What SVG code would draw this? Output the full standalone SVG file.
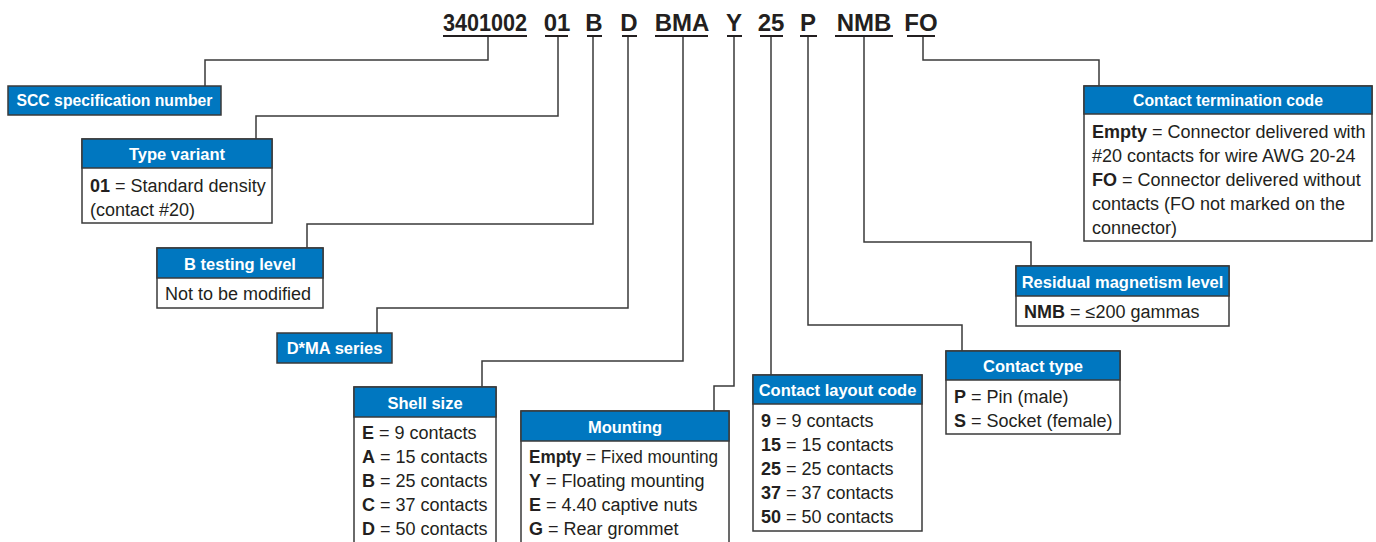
<svg xmlns="http://www.w3.org/2000/svg" width="1376" height="542" viewBox="0 0 1376 542">
<style>
text{font-family:"Liberation Sans Narrow","Liberation Sans",Arial,sans-serif;fill:#231f20}
.code{font-size:24px;font-weight:bold;text-anchor:middle}
.ul{fill:#231f20}
.hdr{fill:#0077c0;stroke:#3a3a3a;stroke-width:1.5}
.box{fill:#fff;stroke:#3a3a3a;stroke-width:1.5}
.ht{font-size:16.5px;font-weight:bold;fill:#fff;text-anchor:middle}
.bt{font-size:18px}
.b{font-weight:bold}
.conn{fill:none;stroke:#3a3a3a;stroke-width:1.5}
</style>
<g id="code">
<text class="code" x="485" y="31" textLength="84" lengthAdjust="spacingAndGlyphs">3401002</text>
<text class="code" x="557" y="31">01</text>
<text class="code" x="594" y="31">B</text>
<text class="code" x="629" y="31">D</text>
<text class="code" x="682" y="31">BMA</text>
<text class="code" x="734" y="31">Y</text>
<text class="code" x="771" y="31">25</text>
<text class="code" x="808" y="31">P</text>
<text class="code" x="864" y="31">NMB</text>
<text class="code" x="921" y="31">FO</text>
<rect class="ul" x="443" y="35" width="84" height="2"/>
<rect class="ul" x="545" y="35" width="23" height="2"/>
<rect class="ul" x="587" y="35" width="15" height="2"/>
<rect class="ul" x="622" y="35" width="15" height="2"/>
<rect class="ul" x="655" y="35" width="53" height="2"/>
<rect class="ul" x="727" y="35" width="15" height="2"/>
<rect class="ul" x="760" y="35" width="23" height="2"/>
<rect class="ul" x="800" y="35" width="17" height="2"/>
<rect class="ul" x="835" y="35" width="58" height="2"/>
<rect class="ul" x="907" y="35" width="28" height="2"/>
</g>
<g id="connectors">
<path class="conn" d="M488 37V60H205V86"/>
<path class="conn" d="M558 37V116H256V139"/>
<path class="conn" d="M593 37V224H307V248"/>
<path class="conn" d="M628 37V308H377V333"/>
<path class="conn" d="M683 37V361H482V387"/>
<path class="conn" d="M734 37V386H714V411"/>
<path class="conn" d="M771 37V375"/>
<path class="conn" d="M808 37V325H962V351"/>
<path class="conn" d="M864 37V242H1031V266"/>
<path class="conn" d="M923 37V60H1099V86"/>
</g>
<g id="scc">
<rect class="hdr" x="8" y="86" width="213" height="29"/>
<text class="ht" x="114.5" y="106" textLength="196" lengthAdjust="spacingAndGlyphs">SCC specification number</text>
</g>
<g id="type-variant">
<rect class="box" x="82" y="139" width="190" height="84"/>
<rect class="hdr" x="82" y="139" width="190" height="29"/>
<text class="ht" x="177" y="160">Type variant</text>
<text class="bt" x="90" y="192"><tspan class="b">01</tspan> = Standard density</text>
<text class="bt" x="90" y="216">(contact #20)</text>
</g>
<g id="b-testing">
<rect class="box" x="157" y="248" width="166" height="60"/>
<rect class="hdr" x="157" y="248" width="166" height="30"/>
<text class="ht" x="240" y="270">B testing level</text>
<text class="bt" x="165" y="300">Not to be modified</text>
</g>
<g id="dma">
<rect class="hdr" x="277" y="333" width="115" height="30"/>
<text class="ht" x="334.5" y="354">D*MA series</text>
</g>
<g id="shell-size">
<rect class="box" x="354" y="387" width="142" height="170"/>
<rect class="hdr" x="354" y="387" width="142" height="30"/>
<text class="ht" x="425" y="409">Shell size</text>
<text class="bt" x="362" y="439"><tspan class="b">E</tspan> = 9 contacts</text>
<text class="bt" x="362" y="463"><tspan class="b">A</tspan> = 15 contacts</text>
<text class="bt" x="362" y="487"><tspan class="b">B</tspan> = 25 contacts</text>
<text class="bt" x="362" y="511"><tspan class="b">C</tspan> = 37 contacts</text>
<text class="bt" x="362" y="535"><tspan class="b">D</tspan> = 50 contacts</text>
</g>
<g id="mounting">
<rect class="box" x="521" y="411" width="208" height="146"/>
<rect class="hdr" x="521" y="411" width="208" height="30"/>
<text class="ht" x="625" y="433">Mounting</text>
<text class="bt" x="529" y="463" textLength="189" lengthAdjust="spacingAndGlyphs"><tspan class="b">Empty</tspan> = Fixed mounting</text>
<text class="bt" x="529" y="487"><tspan class="b">Y</tspan> = Floating mounting</text>
<text class="bt" x="529" y="511"><tspan class="b">E</tspan> = 4.40 captive nuts</text>
<text class="bt" x="529" y="535"><tspan class="b">G</tspan> = Rear grommet</text>
</g>
<g id="contact-layout">
<rect class="box" x="753" y="375" width="169" height="156"/>
<rect class="hdr" x="753" y="375" width="169" height="29"/>
<text class="ht" x="837.5" y="396">Contact layout code</text>
<text class="bt" x="761" y="427"><tspan class="b">9</tspan> = 9 contacts</text>
<text class="bt" x="761" y="451"><tspan class="b">15</tspan> = 15 contacts</text>
<text class="bt" x="761" y="475"><tspan class="b">25</tspan> = 25 contacts</text>
<text class="bt" x="761" y="499"><tspan class="b">37</tspan> = 37 contacts</text>
<text class="bt" x="761" y="523"><tspan class="b">50</tspan> = 50 contacts</text>
</g>
<g id="contact-type">
<rect class="box" x="946" y="351" width="174" height="83"/>
<rect class="hdr" x="946" y="351" width="174" height="29"/>
<text class="ht" x="1033" y="372">Contact type</text>
<text class="bt" x="954" y="403"><tspan class="b">P</tspan> = Pin (male)</text>
<text class="bt" x="954" y="427"><tspan class="b">S</tspan> = Socket (female)</text>
</g>
<g id="residual">
<rect class="box" x="1016" y="266" width="213" height="60"/>
<rect class="hdr" x="1016" y="266" width="213" height="30"/>
<text class="ht" x="1122.5" y="288">Residual magnetism level</text>
<text class="bt" x="1024" y="318"><tspan class="b">NMB</tspan> = ≤200 gammas</text>
</g>
<g id="termination">
<rect class="box" x="1084" y="86" width="288" height="155"/>
<rect class="hdr" x="1084" y="86" width="288" height="28"/>
<text class="ht" x="1228" y="106" textLength="190" lengthAdjust="spacingAndGlyphs">Contact termination code</text>
<text class="bt" x="1092" y="138"><tspan class="b">Empty</tspan> = Connector delivered with</text>
<text class="bt" x="1092" y="162">#20 contacts for wire AWG 20-24</text>
<text class="bt" x="1092" y="186"><tspan class="b">FO</tspan> = Connector delivered without</text>
<text class="bt" x="1092" y="210">contacts (FO not marked on the</text>
<text class="bt" x="1092" y="234">connector)</text>
</g>
</svg>
